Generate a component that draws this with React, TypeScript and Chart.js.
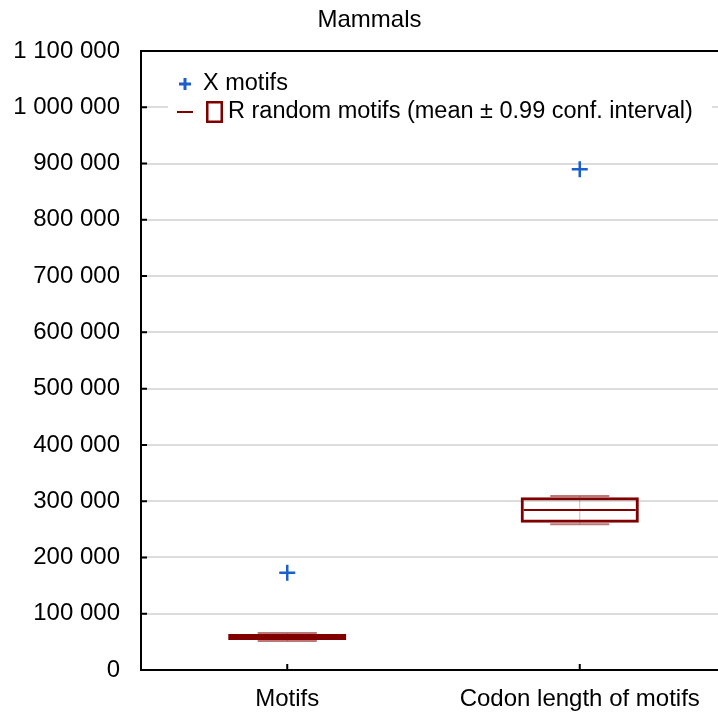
import React, { useEffect, useRef } from "react";
import { Chart, registerables } from "chart.js";

Chart.register(...registerables);

const categories = ["Motifs", "Codon length of motifs"];
const xMotifs = [173000, 890000];
const ciLow = [53500, 261500];
const ciHigh = [64000, 307000];
const meanVals = [58700, 284300];
const whiskerLow = [51500, 259000];
const whiskerHigh = [65700, 309200];
const yMin = 0;
const yMax = 1100000;
const yStep = 100000;

const FONT = "'Liberation Sans', Arial, sans-serif";
const DARK_RED = "#800000";
const BLUE = "#1a5fcc";

const fmt = (v: number) => String(v).replace(/\B(?=(\d{3})+(?!\d))/g, " ");

const whiskerPlugin = {
  id: "whiskers",
  beforeDatasetsDraw(chart: any) {
    const { ctx, scales } = chart;
    const meta = chart.getDatasetMeta(2);
    ctx.save();
    categories.forEach((_, i) => {
      const x = scales.x.getPixelForValue(i);
      const bar = meta.data[i];
      const half = bar ? bar.width / 4 : 30;
      const yt = scales.y.getPixelForValue(whiskerHigh[i]);
      const yb = scales.y.getPixelForValue(whiskerLow[i]);
      ctx.strokeStyle = "rgba(128,0,0,0.3)";
      ctx.lineWidth = 1;
      ctx.beginPath();
      ctx.moveTo(x, yt);
      ctx.lineTo(x, yb);
      ctx.stroke();
      ctx.strokeStyle = "rgba(140,30,30,0.6)";
      ctx.lineWidth = 2;
      ctx.beginPath();
      ctx.moveTo(x - half, yt);
      ctx.lineTo(x + half, yt);
      ctx.moveTo(x - half, yb);
      ctx.lineTo(x + half, yb);
      ctx.stroke();
    });
    ctx.restore();
  },
};

const innerTicksPlugin = {
  id: "innerTicks",
  afterDraw(chart: any) {
    const { ctx, scales, chartArea } = chart;
    ctx.save();
    ctx.strokeStyle = "#000";
    ctx.lineWidth = 2;
    ctx.beginPath();
    scales.y.ticks.forEach((t: any) => {
      const y = scales.y.getPixelForValue(t.value);
      ctx.moveTo(chartArea.left, y);
      ctx.lineTo(chartArea.left + 6, y);
    });
    categories.forEach((_, i) => {
      const x = scales.x.getPixelForValue(i);
      ctx.moveTo(x, chartArea.bottom);
      ctx.lineTo(x, chartArea.bottom - 6);
    });
    ctx.stroke();
    ctx.restore();
  },
};

const legendPlugin = {
  id: "customLegend",
  afterDraw(chart: any) {
    const { ctx } = chart;
    ctx.save();
    ctx.fillStyle = "#fff";
    ctx.fillRect(168, 66, 544, 62);
    ctx.strokeStyle = BLUE;
    ctx.lineWidth = 3;
    ctx.beginPath();
    ctx.moveTo(179, 84);
    ctx.lineTo(191, 84);
    ctx.moveTo(185, 78);
    ctx.lineTo(185, 90);
    ctx.stroke();
    ctx.fillStyle = "#000";
    ctx.font = `23.5px ${FONT}`;
    ctx.textBaseline = "middle";
    ctx.textAlign = "left";
    ctx.fillText("X motifs", 203, 84);
    ctx.strokeStyle = DARK_RED;
    ctx.lineWidth = 2;
    ctx.beginPath();
    ctx.moveTo(177, 112);
    ctx.lineTo(193, 112);
    ctx.stroke();
    ctx.lineWidth = 2.5;
    ctx.strokeRect(207.25, 102.25, 14.5, 19.5);
    ctx.fillText("R random motifs (mean \u00b1 0.99 conf. interval)", 228, 112);
    ctx.restore();
  },
};

export default function App() {
  const ref = useRef<HTMLCanvasElement | null>(null);
  useEffect(() => {
    if (!ref.current) return;
    Chart.defaults.font.family = FONT;
    const chart = new Chart(ref.current, {
      type: "bar",
      data: {
        labels: categories,
        datasets: [
          {
            type: "line",
            label: "X motifs",
            data: xMotifs,
            showLine: false,
            pointStyle: "cross",
            pointRadius: 8,
            pointHoverRadius: 8,
            pointBorderWidth: 2.5,
            pointBorderColor: BLUE,
            borderColor: BLUE,
            order: 0,
          } as any,
          {
            type: "line",
            label: "mean",
            data: meanVals,
            showLine: false,
            pointStyle: "line",
            pointRadius: 56,
            pointHoverRadius: 56,
            pointBorderWidth: 2,
            pointBorderColor: DARK_RED,
            borderColor: DARK_RED,
            order: 1,
          } as any,
          {
            type: "bar",
            label: "R random motifs",
            data: categories.map((_, i) => [ciLow[i], ciHigh[i]]),
            backgroundColor: "rgba(255,255,255,0)",
            borderColor: DARK_RED,
            borderWidth: 3,
            borderSkipped: false,
            barPercentage: 0.404,
            categoryPercentage: 1,
            order: 2,
          } as any,
        ],
      },
      options: {
        responsive: false,
        maintainAspectRatio: false,
        animation: false,
        events: [],
        layout: { autoPadding: false, padding: { left: 13, right: 12, top: 0, bottom: 0 } },
        plugins: {
          legend: { display: false },
          tooltip: { enabled: false },
          title: {
            display: true,
            text: "Mammals",
            color: "#000",
            font: { family: FONT, size: 24, weight: "normal" },
            padding: { top: 5.5, bottom: 16.7 },
          },
        },
        scales: {
          x: {
            type: "category",
            offset: true,
            grid: { display: true, drawOnChartArea: false, drawTicks: false, offset: false },
            border: { display: true, color: "#000", width: 2 },
            ticks: {
              color: "#000",
              font: { family: FONT, size: 24 },
              padding: 15,
              maxRotation: 0,
              autoSkip: false,
            },
            afterFit: (s: any) => {
              s.height = 45;
              s.paddingLeft = 0;
              s.paddingRight = 0;
            },
          },
          y: {
            min: yMin,
            max: yMax,
            ticks: {
              stepSize: yStep,
              color: "#000",
              font: { family: FONT, size: 24 },
              padding: 21,
              callback: (v: any) => fmt(Number(v)),
            },
            grid: {
              color: (c: any) =>
                c.tick && (c.tick.value === yMax || c.tick.value === yMin) ? "#000" : "#dcdcdc",
              lineWidth: 2,
              drawTicks: false,
            },
            border: { display: true, color: "#000", width: 2 },
            afterFit: (s: any) => {
              s.width = 128;
            },
          },
        },
      },
      plugins: [whiskerPlugin, innerTicksPlugin, legendPlugin],
    } as any);
    return () => chart.destroy();
  }, []);
  return (
    <div
      style={{
        position: "fixed",
        left: 0,
        top: 0,
        width: 718,
        height: 715,
        overflow: "hidden",
        background: "#fff",
      }}
    >
      <canvas ref={ref} width={738} height={715} style={{ display: "block" }} />
    </div>
  );
}
